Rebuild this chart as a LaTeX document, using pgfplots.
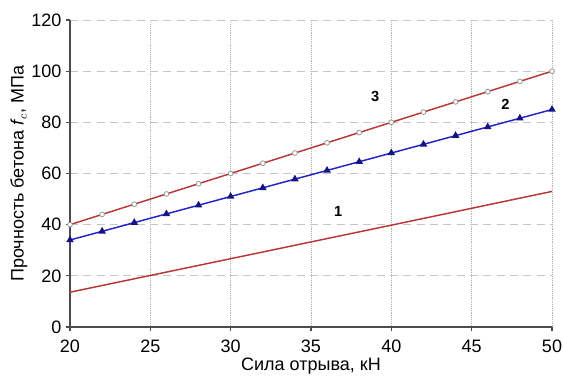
\documentclass[border=0pt]{standalone}
\usepackage{pgfplots}
\pgfplotsset{compat=1.18}
\usepackage{fontspec}
\setmainfont{Liberation Sans}
\definecolor{lred}{RGB}{185,55,55}
\definecolor{lblue}{RGB}{35,35,200}
\definecolor{mblue}{RGB}{20,20,130}
\begin{document}
\begin{tikzpicture}[x=1pt,y=1pt]
\begin{axis}[
  width=361.5pt, height=230.25pt, scale only axis,
  xmin=20, xmax=50, ymin=0, ymax=120,
  xtick={20,25,...,50}, ytick={0,20,...,120},
  axis lines=left, axis line style={-, black!70, line width=1.3pt},
  tick align=outside, tick style={black!70, line width=0.8pt}, major tick length=3pt,
  xmajorgrids, ymajorgrids,
  x grid style={densely dotted, gray!60},
  y grid style={dash pattern=on 6pt off 4pt, gray!45, line width=0.7pt},
  /pgf/number format/assume math mode=true,
  tick label style={font=\fontsize{13.5}{15}\selectfont},
  xticklabel style={yshift=-3pt},
  label style={font=\fontsize{13.5}{15}\selectfont},
  xlabel={Сила отрыва, кН},
  ylabel={Прочность бетона \textit{f}$_{c}$, МПа},
  xlabel style={yshift=3pt},
  ylabel style={yshift=-4pt},
  clip=false,
]
\addplot[lred, line width=1.1pt] coordinates {(20,13.6) (30,26.7) (40,39.8) (50,53)};
\addplot[lblue, line width=1.1pt, mark=triangle*, mark size=2.2pt, mark options={fill=mblue, draw=mblue}] coordinates {
(20,34) (22,37.4) (24,40.8) (26,44.2) (28,47.6) (30,51) (32,54.4) (34,57.8) (36,61.2) (38,64.6) (40,68) (42,71.4) (44,74.8) (46,78.2) (48,81.6) (50,85)};
\addplot[lred, line width=1.1pt, mark=*, mark size=1.8pt, mark options={fill=white, draw=gray!80, line width=0.6pt}] coordinates {
(20,40) (22,44) (24,48) (26,52) (28,56) (30,60) (32,64) (34,68) (36,72) (38,76) (40,80) (42,84) (44,88) (46,92) (48,96) (50,100)};
\node[font=\bfseries\fontsize{11}{13}\selectfont] at (axis cs:39,90) {3};
\node[font=\bfseries\fontsize{11}{13}\selectfont] at (axis cs:47.1,87.2) {2};
\node[font=\bfseries\fontsize{11}{13}\selectfont] at (axis cs:36.7,45.3) {1};
\coordinate (SW) at (rel axis cs:0,0);
\coordinate (NE) at (rel axis cs:1,1);
\end{axis}
\pgfresetboundingbox
\path[use as bounding box] ([shift={(-52.5pt,-38.25pt)}]SW) rectangle ([shift={(8.25pt,15pt)}]NE);
\end{tikzpicture}
\end{document}
